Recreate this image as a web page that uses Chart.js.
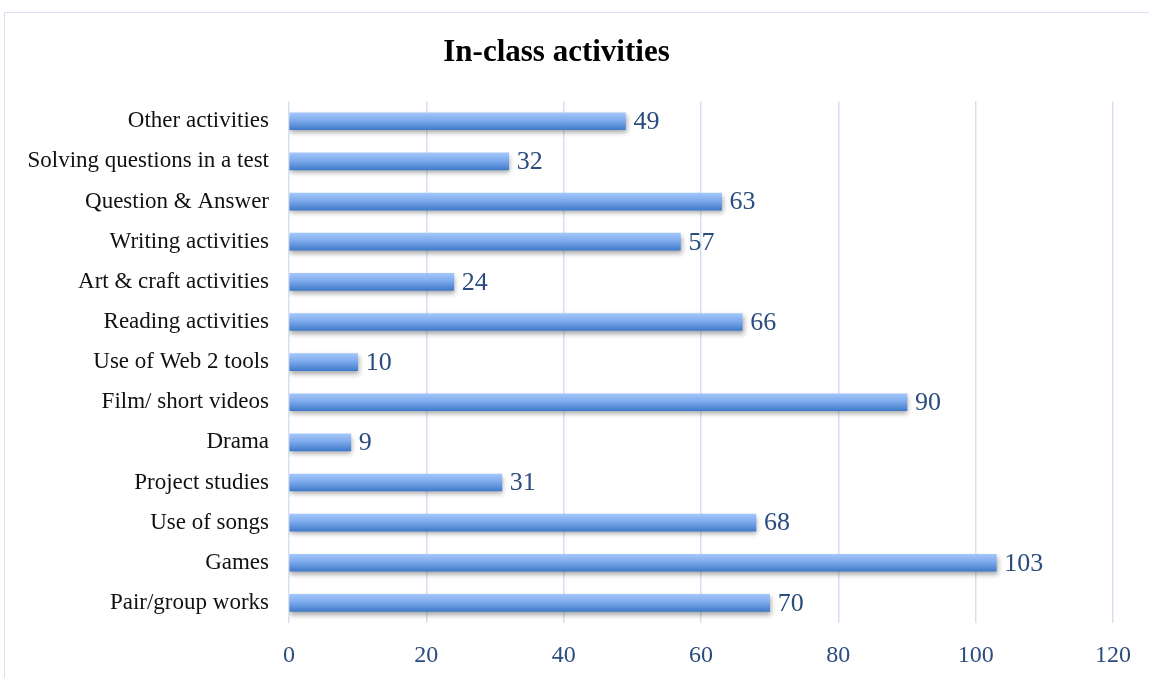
<!DOCTYPE html>
<html>
<head>
<meta charset="utf-8">
<script src="https://cdn.jsdelivr.net/npm/chart.js@4"></script>
<style>
  html, body { margin: 0; padding: 0; background: #fff; }
  #wrap { position: relative; width: 1149px; height: 678px; }
  #frame { position: absolute; left: 4px; top: 12px; right: -2px; bottom: -2px; border: 1px solid #D6E0EE; }
  canvas { position: absolute; left: 0; top: 0; }
</style>
</head>
<body>
<div id="wrap">
  <div id="frame"></div>
  <canvas id="chartActivities" width="1149" height="678"></canvas>
</div>
<script>
/* ── chart data ── */
const activityLabels = [
    'Other activities', 'Solving questions in a test', 'Question & Answer',
    'Writing activities', 'Art & craft activities', 'Reading activities',
    'Use of Web 2 tools', 'Film/ short videos', 'Drama', 'Project studies',
    'Use of songs', 'Games', 'Pair/group works'
];
const activityCounts = [49, 32, 63, 57, 24, 66, 10, 90, 9, 31, 68, 103, 70];
const tickValues = [0, 20, 40, 60, 80, 100, 120];

const serif = '"Liberation Serif", "DejaVu Serif", serif';
const labelBlue = '#2B4C7E';
const BAR_H = 17;

/**
 * Per-bar vertical gradient (light top, darker bottom)
 */
function barGradient(context) {
    const chart = context.chart;
    const yScale = chart.scales && chart.scales.y;
    if (!yScale || !chart.chartArea) return '#7EAAEC';
    const cy = yScale.getPixelForValue(context.dataIndex);
    if (!Number.isFinite(cy)) return '#7EAAEC';
    const g = chart.ctx.createLinearGradient(0, cy - BAR_H / 2, 0, cy + BAR_H / 2);
    g.addColorStop(0, '#A3C6FA');
    g.addColorStop(0.45, '#7EAAEC');
    g.addColorStop(1, '#3F7BCB');
    return g;
}

/**
 * Bar shadow + value labels at bar ends
 */
const barExtras = {
    id: 'barExtras',
    beforeDatasetDraw(chart) {
        const ctx = chart.ctx;
        ctx.save();
        ctx.shadowColor = 'rgba(0,0,0,0.35)';
        ctx.shadowBlur = 5;
        ctx.shadowOffsetY = 3;
        ctx.shadowOffsetX = 1;
    },
    afterDatasetDraw(chart) {
        chart.ctx.restore();
    },
    afterDatasetsDraw(chart) {
        const ctx = chart.ctx;
        const meta = chart.getDatasetMeta(0);
        ctx.save();
        ctx.font = '26px ' + serif;
        ctx.fillStyle = labelBlue;
        ctx.textBaseline = 'middle';
        ctx.textAlign = 'left';
        meta.data.forEach((bar, i) => {
            ctx.fillText(String(activityCounts[i]), bar.x + 8, bar.y + 1);
        });
        ctx.restore();
    }
};

const ctx = document.getElementById('chartActivities');
new Chart(ctx, {
    type: 'bar',
    data: {
        labels: activityLabels,
        datasets: [{
            data: activityCounts,
            backgroundColor: barGradient,
            barThickness: BAR_H,
            borderWidth: 0
        }]
    },
    options: {
        indexAxis: 'y',
        responsive: false,
        animation: false,
        layout: { padding: { left: 0, right: 36, top: 0, bottom: 0 } },
        plugins: {
            legend: { display: false },
            tooltip: { enabled: false },
            title: {
                display: true,
                text: 'In-class activities',
                color: '#000',
                font: { family: serif, size: 31, weight: 'bold' },
                padding: { top: 34, bottom: 30 }
            }
        },
        scales: {
            x: {
                min: 0,
                max: 120,
                afterBuildTicks(scale) {
                    scale.ticks = tickValues.map(v => ({ value: v }));
                },
                afterFit(scale) { scale.height = 55; },
                grid: { color: '#D5E1F1', lineWidth: 1.5, drawTicks: false },
                border: { display: false },
                ticks: {
                    color: labelBlue,
                    padding: 18,
                    font: { family: serif, size: 24 }
                }
            },
            y: {
                afterFit(scale) { scale.width = 289; },
                grid: { display: false, drawTicks: false },
                border: { display: false },
                ticks: {
                    color: '#111',
                    padding: 20,
                    font: { family: serif, size: 23 }
                }
            }
        }
    },
    plugins: [barExtras]
});
</script>
</body>
</html>
